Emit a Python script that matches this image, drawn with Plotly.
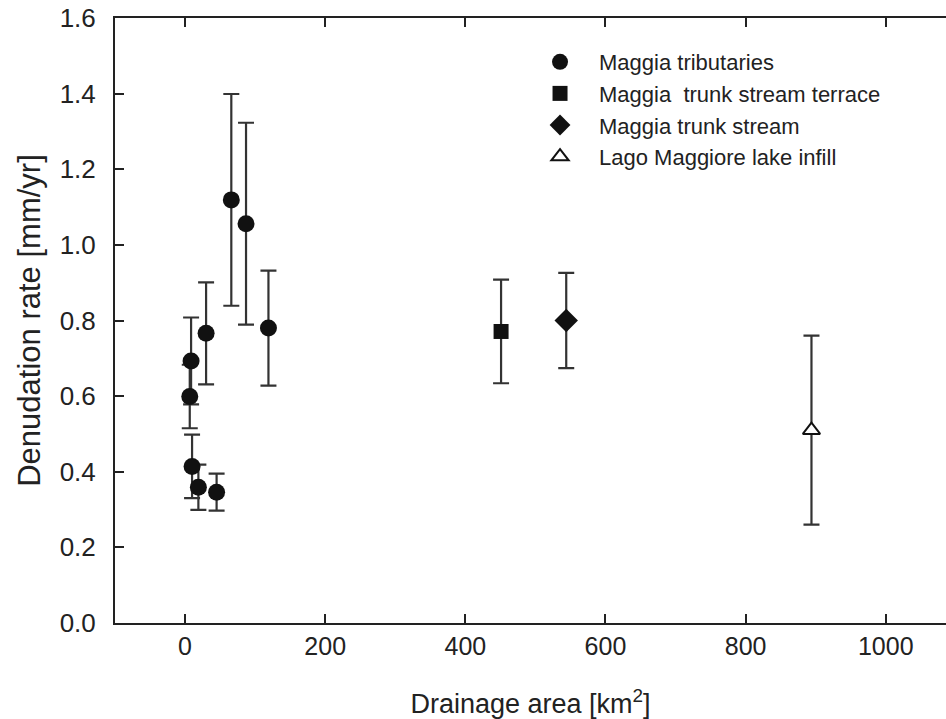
import plotly.graph_objects as go

# Maggia tributaries
trib_area = [8.6, 6.7, 30, 119, 10, 19, 45, 66, 87]
trib_rate = [0.693, 0.599, 0.766, 0.780, 0.414, 0.359, 0.346, 1.119, 1.056]
trib_err = [0.115, 0.084, 0.135, 0.152, 0.084, 0.060, 0.049, 0.280, 0.267]

# Maggia trunk stream terrace
terr_area = [451]
terr_rate = [0.771]
terr_err = [0.137]

# Maggia trunk stream
trunk_area = [544]
trunk_rate = [0.800]
trunk_err = [0.126]

# Lago Maggiore lake infill
lake_area = [894]
lake_rate = [0.510]
lake_err = [0.250]

x_ticks = [0, 200, 400, 600, 800, 1000]
y_ticks = [0.0, 0.2, 0.4, 0.6, 0.8, 1.0, 1.2, 1.4, 1.6]

FONT = "Liberation Sans, Arial, sans-serif"
ERRC = "#333333"

def err(vals):
    return dict(type="data", array=vals, visible=True, color=ERRC, thickness=2.2, width=8)

fig = go.Figure()
fig.add_trace(go.Scatter(x=trib_area, y=trib_rate, mode="markers", name="Maggia tributaries",
                         error_y=err(trib_err),
                         marker=dict(symbol="circle", size=17, color="#111111", line=dict(width=0))))
fig.add_trace(go.Scatter(x=terr_area, y=terr_rate, mode="markers", name="Maggia\u00a0 trunk stream terrace",
                         error_y=err(terr_err),
                         marker=dict(symbol="square", size=15, color="#111111", line=dict(width=0))))
fig.add_trace(go.Scatter(x=trunk_area, y=trunk_rate, mode="markers", name="Maggia trunk stream",
                         error_y=err(trunk_err),
                         marker=dict(symbol="diamond", size=18, color="#111111", line=dict(width=0))))
fig.add_trace(go.Scatter(x=lake_area, y=lake_rate, mode="markers", name="Lago Maggiore lake infill",
                         error_y=err(lake_err),
                         marker=dict(symbol="triangle-up", size=15, color="white",
                                     line=dict(width=2, color="#111111"))))

fig.update_layout(
    width=946, height=719,
    margin=dict(l=115, r=0, t=18, b=96),
    paper_bgcolor="white", plot_bgcolor="white",
    font=dict(family=FONT, color="#222222"),
    showlegend=True,
    legend=dict(x=0.4886, y=0.962, xanchor="left", yanchor="top",
                bgcolor="rgba(0,0,0,0)", borderwidth=0,
                font=dict(family=FONT, size=22, color="#222222"),
                itemwidth=68, tracegroupgap=0),
)
fig.update_xaxes(range=[-100, 1086], tickvals=x_ticks, ticktext=[str(v) for v in x_ticks],
                 showgrid=False, zeroline=False, showline=True, linecolor="#222222", linewidth=2,
                 mirror="ticks", ticks="inside", ticklen=9, tickwidth=2, tickcolor="#222222",
                 tickfont=dict(family=FONT, size=25, color="#222222"), ticklabelstandoff=0,
                 title=dict(text="Drainage area [km<sup>2</sup>]", font=dict(family=FONT, size=27, color="#222222"),
                            standoff=36))
fig.update_yaxes(range=[0, 1.6], tickvals=y_ticks, ticktext=[f"{v:.1f}" for v in y_ticks],
                 showgrid=False, zeroline=False, showline=True, linecolor="#222222", linewidth=2,
                 mirror=False, ticks="inside", ticklen=9, tickwidth=2, tickcolor="#222222",
                 tickfont=dict(family=FONT, size=26, color="#222222"), ticklabelstandoff=12,
                 title=dict(text="Denudation rate [mm/yr]", font=dict(family=FONT, size=31, color="#222222"),
                            standoff=10))

fig.write_html("out.html")
